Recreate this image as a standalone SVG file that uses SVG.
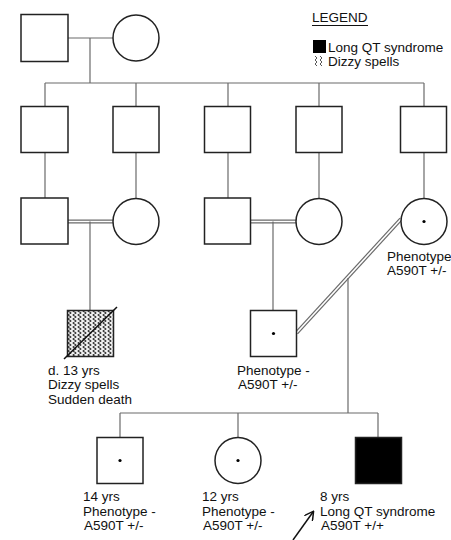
<svg xmlns="http://www.w3.org/2000/svg" width="451" height="540" viewBox="0 0 451 540">
<style>
.n{fill:#fff;stroke:#222;stroke-width:1.5}
.c{stroke:#6a6a6a;stroke-width:1.2;fill:none}
.dbl{stroke:#6a6a6a;stroke-width:4;fill:none}
.dbli{stroke:#fff;stroke-width:1.6;fill:none}
.dot{fill:#000}
text{font-family:"Liberation Sans",Arial,sans-serif;font-size:13.5px;fill:#111}
</style>
<defs>
<pattern id="wavy" width="5" height="4" patternUnits="userSpaceOnUse" x="67" y="310">
<rect width="5" height="4" fill="#f2f2f2"/>
<path d="M2.5,0 C0.5,1 0.5,1 2.5,2 C4.5,3 4.5,3 2.5,4" stroke="#333" stroke-width="1.1" fill="none"/>
</pattern>
<marker id="arr" markerWidth="10" markerHeight="10" refX="8" refY="5" orient="auto" markerUnits="userSpaceOnUse">
<path d="M0,0 L9,5 L0,10" fill="none" stroke="#111" stroke-width="1.5"/>
</marker>
</defs>
<g id="connectors">
<line class="c" x1="68" y1="38" x2="113" y2="38"/>
<line class="c" x1="90" y1="38" x2="90" y2="83"/>
<line class="c" x1="45" y1="83" x2="424" y2="83"/>
<line class="c" x1="45" y1="83" x2="45" y2="106"/>
<line class="c" x1="136" y1="83" x2="136" y2="106"/>
<line class="c" x1="228" y1="83" x2="228" y2="106"/>
<line class="c" x1="319" y1="83" x2="319" y2="106"/>
<line class="c" x1="424" y1="83" x2="424" y2="106"/>
<line class="c" x1="45" y1="153" x2="45" y2="198"/>
<line class="c" x1="136" y1="153" x2="136" y2="198"/>
<line class="c" x1="228" y1="153" x2="228" y2="198"/>
<line class="c" x1="319" y1="153" x2="319" y2="198"/>
<line class="c" x1="424" y1="153" x2="424" y2="198"/>
<line class="dbl" x1="68" y1="221.5" x2="113" y2="221.5"/>
<line class="dbli" x1="68" y1="221.5" x2="113" y2="221.5"/>
<line class="c" x1="90" y1="221.5" x2="90" y2="310"/>
<line class="dbl" x1="251" y1="221.5" x2="296" y2="221.5"/>
<line class="dbli" x1="251" y1="221.5" x2="296" y2="221.5"/>
<line class="c" x1="273" y1="221.5" x2="273" y2="310"/>
<line class="dbl" x1="296.5" y1="333" x2="401" y2="219"/>
<line class="dbli" x1="296.5" y1="333" x2="401" y2="219"/>
<line class="c" x1="348" y1="278" x2="348" y2="413"/>
<line class="c" x1="120" y1="413" x2="378" y2="413"/>
<line class="c" x1="120" y1="413" x2="120" y2="438"/>
<line class="c" x1="238" y1="413" x2="238" y2="437"/>
<line class="c" x1="378" y1="413" x2="378" y2="438"/>
<line x1="293" y1="540" x2="313" y2="512" stroke="#111" stroke-width="1.5" marker-end="url(#arr)"/>
</g>
<g id="legend">
<text x="312" y="22">LEGEND</text>
<line x1="312" y1="25.5" x2="368" y2="25.5" stroke="#111" stroke-width="1"/>
<rect x="313" y="40" width="13" height="13" fill="#000"/>
<text x="328" y="52">Long QT syndrome</text>
<path d="M315,56 L317,58 L315,60 L317,62 L315,64 L317,66 M320,56 L322,58 L320,60 L322,62 L320,64 L322,66" stroke="#444" stroke-width="0.9" fill="none"/>
<text x="328" y="66">Dizzy spells</text>
</g>
<g id="g1m"><rect class="n" x="21" y="14.5" width="47" height="47"/></g>
<g id="g1f"><circle class="n" cx="136" cy="38" r="23"/></g>
<g id="g2a"><rect class="n" x="21" y="106.5" width="47" height="46"/></g>
<g id="g2b"><rect class="n" x="113" y="106.5" width="46" height="46"/></g>
<g id="g2c"><rect class="n" x="204.5" y="106.5" width="46" height="46"/></g>
<g id="g2d"><rect class="n" x="296" y="106.5" width="46" height="46"/></g>
<g id="g2e"><rect class="n" x="400.5" y="106.5" width="46" height="46"/></g>
<g id="g3a"><rect class="n" x="21" y="198" width="47" height="46"/></g>
<g id="g3b"><circle class="n" cx="136" cy="221.5" r="23"/></g>
<g id="g3c"><rect class="n" x="204.5" y="198" width="46" height="46"/></g>
<g id="g3d"><circle class="n" cx="319" cy="221.5" r="23"/></g>
<g id="g3e"><circle class="n" cx="424" cy="221.5" r="23"/><circle class="dot" cx="424" cy="221.5" r="1.6"/>
<text x="387" y="261">Phenotype</text><text x="387" y="275">A590T +/-</text></g>
<g id="g4a"><rect x="67.5" y="310.5" width="46" height="46" fill="url(#wavy)" stroke="#222" stroke-width="1.5"/>
<line x1="64" y1="359" x2="117" y2="307" stroke="#111" stroke-width="1.5"/>
<text x="48" y="375">d. 13 yrs</text><text x="48" y="389">Dizzy spells</text><text x="48" y="403.5">Sudden death</text></g>
<g id="g4b"><rect class="n" x="250.5" y="310.5" width="46" height="46"/><circle class="dot" cx="273.5" cy="333.5" r="1.6"/>
<text x="237" y="375">Phenotype -</text><text x="238" y="389">A590T +/-</text></g>
<g id="g5a"><rect class="n" x="97" y="437.5" width="46" height="46"/><circle class="dot" cx="120" cy="460.5" r="1.6"/>
<text x="83" y="501">14 yrs</text><text x="83" y="516">Phenotype -</text><text x="84" y="530">A590T +/-</text></g>
<g id="g5b"><circle class="n" cx="238" cy="460.5" r="23"/><circle class="dot" cx="238" cy="460.5" r="1.6"/>
<text x="202" y="501">12 yrs</text><text x="202" y="516">Phenotype -</text><text x="203" y="530">A590T +/-</text></g>
<g id="g5c"><rect x="355.5" y="437.5" width="46" height="46" fill="#000" stroke="#222" stroke-width="1.5"/>
<text x="320" y="501">8 yrs</text><text x="320" y="516">Long QT syndrome</text><text x="321" y="530">A590T +/+</text></g>
</svg>
